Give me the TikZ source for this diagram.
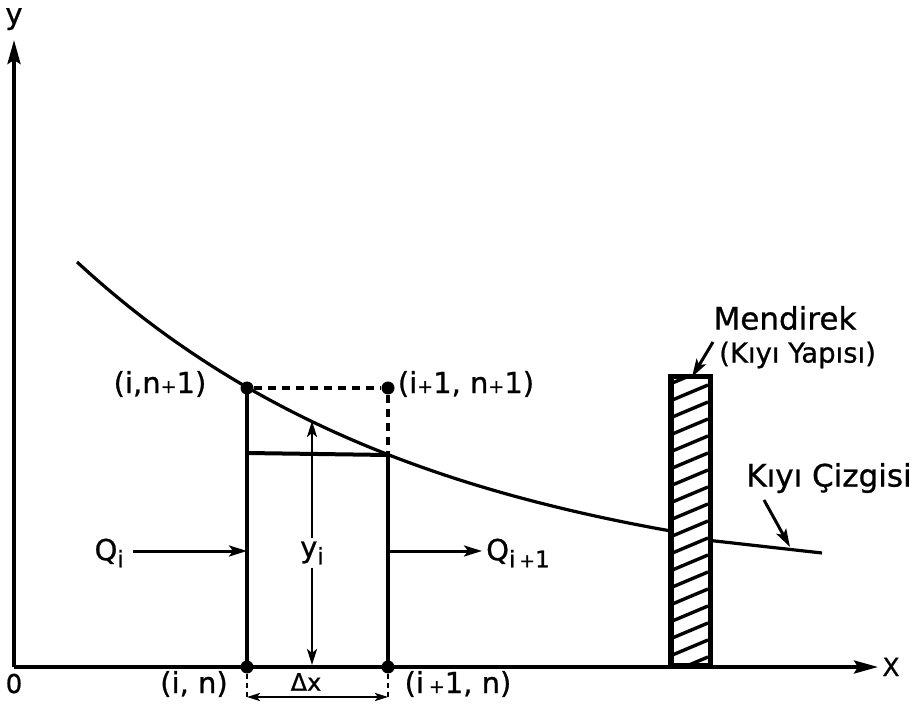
\documentclass[tikz,border=0pt]{standalone}
\usepackage{fontspec}
\setmainfont{DejaVu Sans}[FakeBold=0.8]
\usetikzlibrary{arrows.meta}
\newcommand\lowr[1]{\raisebox{-0.45ex}{\fontsize{23}{23}\selectfont #1}}
\newcommand\smallplus{{\fontsize{19}{19}\selectfont +}}
\begin{document}
\begin{tikzpicture}[x=1pt,y=-1pt,
  lab/.style={font=\fontsize{29}{31}\selectfont, inner sep=0pt},
  word/.style={font=\fontsize{31}{33}\selectfont, inner sep=0pt},
  axis/.style={line width=3.6pt, -{Stealth[length=24pt,width=13pt,inset=4pt]}},
  thickline/.style={line width=4pt},
  curveline/.style={line width=3.2pt},
  dashline/.style={line width=3.6pt, dash pattern=on 8pt off 6pt},
  arr/.style={line width=3pt, -{Stealth[length=18pt,width=11pt,inset=4pt]}},
  thinarr/.style={line width=2.6pt, -{Stealth[length=16pt,width=10pt,inset=4pt]}},
  dimarr/.style={line width=2.6pt, {Stealth[length=13pt,width=8pt,inset=3pt]}-{Stealth[length=13pt,width=8pt,inset=3pt]}},
  tickline/.style={line width=2.6pt, dash pattern=on 5pt off 4pt},
  dot/.style={circle, fill=black, inner sep=0pt, minimum size=13pt},
  hatchline/.style={line width=3.4pt}]
\useasboundingbox (0,0) rectangle (922,711);
\fill[white] (0,0) rectangle (922,711);

% axes
\coordinate (O) at (14,667);
\coordinate (Ytip) at (14,40);
\coordinate (Xtip) at (878,667);
\draw[axis] (O) -- (Ytip);
\draw[axis] (O) -- (Xtip);
\node[lab, anchor=base] (ylab) at (14,24) {y};
\node[lab, font=\fontsize{25}{27}\selectfont, anchor=base] (xlab) at (891,676) {X};
\node[lab, font=\fontsize{26}{28}\selectfont, anchor=base] (zero) at (14,693) {0};

% shoreline curve
\draw[curveline] plot[domain=77:670, samples=80] (\x, {595-333*exp(-0.00278*(\x-77))});
\draw[curveline] (706,540) -- (822,553);

% grid points
\node[dot] (A) at (247,667) {};
\node[dot] (B) at (388,667) {};
\node[dot] (C) at (247,388) {};
\node[dot] (D) at (388,388) {};
\coordinate (E) at (388,455);
\coordinate (F) at (247,453);

\draw[thickline] (A.center) -- (C.center);
\draw[thickline] (B.center) -- (E);
\draw[thickline] (F) -- (E);
\draw[dashline] (C.east) -- (D.west);
\draw[dashline] (D.south) -- (E);

% point labels
\node[lab] (lin) at (194,684) {(i, n)};
\node[lab] (lin1) at (458,684) {(i\,\smallplus1, n)};
\node[lab] (lcn1) at (160,384) {(i,n\smallplus1)};
\node[lab] (ldn1) at (466,384) {(i\smallplus1, n\smallplus1)};

% delta x dimension
\coordinate (dl) at (247,697);
\coordinate (dr) at (388,697);
\draw[tickline] (A.south) -- (dl);
\draw[tickline] (B.south) -- (dr);
\draw[dimarr] (dl) -- (dr);
\node[lab, font=\fontsize{24}{26}\selectfont] (dx) at (306,682) {Δx};

% y_i
\node[lab, inner sep=3pt] (yi) at (312,553) {y\lowr{i}};
\coordinate (yitop) at (312,421);
\coordinate (yibot) at (312,665);
\draw[thinarr] (yi) -- (yitop);
\draw[thinarr] (yi) -- (yibot);

% Q arrows
\node[lab, anchor=east] (qi) at (124,553) {Q\lowr{i}};
\coordinate (qis) at (133,551);
\coordinate (qie) at (247,551);
\draw[arr] (qis) -- (qie);
\coordinate (qos) at (388,551);
\coordinate (qoe) at (482,551);
\draw[arr] (qos) -- (qoe);
\node[lab, anchor=west] (qo) at (486,553) {Q\lowr{i\,\smallplus1}};

% breakwater
\node[draw, line width=3.6pt, fill=white, minimum width=38pt, minimum height=288pt, inner sep=0pt, anchor=south west] (mend) at (670,667) {};
\begin{scope}
\clip (mend.south west) rectangle (mend.north east);
\foreach \yy in {384,401,...,704} \draw[hatchline] (670,\yy) -- (708,\yy-16);
\end{scope}
\draw[line width=3.6pt] (mend.south west) rectangle (mend.north east);

% labels
\node[word] (mend1) at (785,318) {Mendirek};
\node[word, font=\fontsize{27.5}{30}\selectfont, anchor=west] (mend2) at (719,355) {(Kıyı Yapısı)};
\coordinate (ma) at (713,342);
\coordinate (mt) at (692,377);
\draw[arr] (ma) -- (mt);

\node[word] (kc) at (829,478) {Kıyı Çizgisi};
\coordinate (ka) at (764,500);
\coordinate (kt) at (790,547);
\draw[arr] (ka) -- (kt);
\end{tikzpicture}
\end{document}
